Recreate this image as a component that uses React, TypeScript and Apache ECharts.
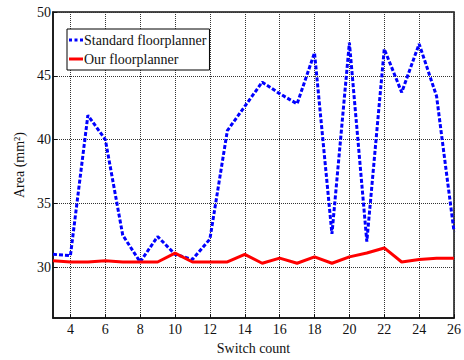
import React, { useEffect, useRef } from "react";
import * as echarts from "echarts";

// Switch counts along the x axis
const switchCounts = [
  "3", "4", "5", "6", "7", "8", "9", "10", "11", "12", "13", "14",
  "15", "16", "17", "18", "19", "20", "21", "22", "23", "24", "25", "26",
];

// Area (mm^2) per switch count
const standardArea = [
  31.0, 30.9, 41.9, 40.0, 32.5, 30.4, 32.4, 31.0, 30.6, 32.2, 40.7, 42.6,
  44.5, 43.6, 42.8, 46.8, 32.6, 47.6, 32.0, 47.1, 43.7, 47.5, 43.4, 32.8,
];
const ourArea = [
  30.5, 30.4, 30.4, 30.5, 30.4, 30.4, 30.4, 31.1, 30.4, 30.4, 30.4, 31.0,
  30.3, 30.7, 30.3, 30.8, 30.3, 30.8, 31.1, 31.5, 30.4, 30.6, 30.7, 30.7,
];

const seriesNames = ["Standard floorplanner", "Our floorplanner"];
const seriesColors = ["#0000ff", "#ff0000"];

const FONT = "Times New Roman, Liberation Serif, DejaVu Serif, serif";

// Legend keys: a dashed stroke and a solid stroke
const DASHED_KEY = "path://M0,0h3v3h-3zM5.5,0h3v3h-3zM11,0h3v3h-3z";
const SOLID_KEY = "path://M0,0h14v3h-14z";

export default function App() {
  const ref = useRef<HTMLDivElement>(null);

  useEffect(() => {
    if (!ref.current) return;
    const chart = echarts.init(ref.current, undefined, { renderer: "svg" });
    const isEven = (v: string) => Number(v) % 2 === 0;
    const textStyle = { fontFamily: FONT, fontSize: 14, color: "#111" };
    chart.setOption({
      animation: false,
      backgroundColor: "#ffffff",
      textStyle: { fontFamily: FONT },
      grid: {
        left: 53,
        top: 12,
        right: 7,
        bottom: 38,
        show: true,
        borderColor: "#111",
        borderWidth: 1.5,
        backgroundColor: "transparent",
      },
      legend: {
        orient: "vertical",
        left: 67,
        top: 29,
        z: 10,
        itemWidth: 14,
        itemHeight: 3,
        itemGap: 5,
        padding: [4, 3, 4, 2],
        borderColor: "#000",
        borderWidth: 1,
        backgroundColor: "#ffffff",
        textStyle: { fontFamily: FONT, fontSize: 14, color: "#111", padding: [0, 0, 0, -4] },
        data: [
          { name: seriesNames[0], icon: DASHED_KEY },
          { name: seriesNames[1], icon: SOLID_KEY },
        ],
      },
      xAxis: {
        type: "category",
        data: switchCounts,
        boundaryGap: false,
        name: "Switch count",
        nameLocation: "middle",
        nameGap: 20,
        nameTextStyle: textStyle,
        axisLine: { lineStyle: { color: "#111", width: 1.5 } },
        axisTick: { inside: true, length: 4, interval: (_i: number, v: string) => isEven(v), lineStyle: { color: "#111" } },
        axisLabel: {
          ...textStyle,
          interval: (_i: number, v: string) => isEven(v),
          margin: 4,
        },
        splitLine: {
          show: true,
          interval: (_i: number, v: string) => isEven(v),
          lineStyle: { color: "#333", type: [1, 1], width: 1 },
        },
      },
      yAxis: {
        type: "value",
        min: 26,
        max: 50,
        splitNumber: 5,
        name: "Area (mm\u00B2)",
        nameLocation: "middle",
        nameRotate: 90,
        nameGap: 24,
        nameTextStyle: textStyle,
        axisLine: { show: true, lineStyle: { color: "#111", width: 1.5 } },
        axisTick: { show: true, inside: true, length: 4, lineStyle: { color: "#111" } },
        axisLabel: {
          ...textStyle,
          showMinLabel: false,
          margin: 2,
          formatter: (v: number) => (v % 5 === 0 ? String(v) : ""),
        },
        splitLine: {
          show: true,
          lineStyle: { color: "#333", type: [1, 1], width: 1 },
        },
      },
      series: [
        {
          name: seriesNames[0],
          type: "line",
          data: standardArea,
          symbol: "none",
          itemStyle: { color: seriesColors[0] },
          lineStyle: { color: seriesColors[0], width: 3, type: [4, 2] },
          z: 3,
        },
        {
          name: seriesNames[1],
          type: "line",
          data: ourArea,
          symbol: "none",
          itemStyle: { color: seriesColors[1] },
          lineStyle: { color: seriesColors[1], width: 3 },
          z: 4,
        },
      ],
    });
    return () => chart.dispose();
  }, []);

  return <div ref={ref} style={{ width: 464, height: 360, position: "absolute", left: 0, top: 0 }} />;
}
